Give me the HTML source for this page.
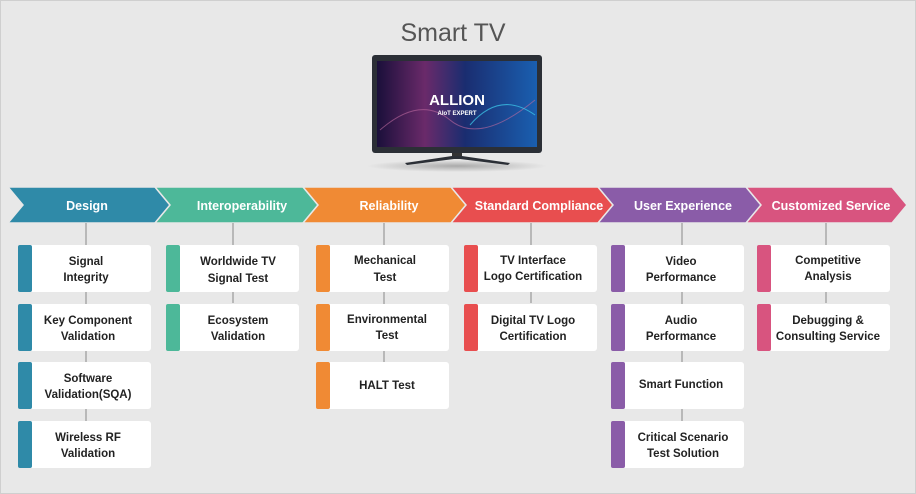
<!DOCTYPE html>
<html><head><meta charset="utf-8"><style>
body{margin:0;background:#e8e8e8;}
svg{display:block;font-family:"Liberation Sans",sans-serif;}
.h{font-weight:bold;font-size:12.5px;fill:#fff;text-anchor:middle;}
.b{font-weight:bold;font-size:11.5px;fill:#222;text-anchor:middle;}
</style></head><body>
<svg width="916" height="494" viewBox="0 0 916 494">
<rect width="916" height="494" fill="#e8e8e8"/>
<rect x="0.5" y="0.5" width="915" height="493" fill="none" stroke="#cfcfcf"/>
<text x="453" y="41" font-size="25" fill="#555" text-anchor="middle">Smart TV</text>
<defs>
<linearGradient id="scr" x1="0" y1="0" x2="1" y2="0">
<stop offset="0" stop-color="#1a0f3a"/><stop offset="0.3" stop-color="#6a2a6a"/><stop offset="0.55" stop-color="#1a2d70"/><stop offset="1" stop-color="#1a5fb0"/></linearGradient>
<radialGradient id="sh"><stop offset="0" stop-color="#aaa"/><stop offset="1" stop-color="#e8e8e8"/></radialGradient>
</defs>
<ellipse cx="457" cy="166" rx="90" ry="6" fill="url(#sh)"/>
<rect x="372" y="55" width="170" height="98" rx="3" fill="#2b2f36"/>
<rect x="377" y="61" width="160" height="86" fill="url(#scr)"/>
<path d="M380 130 Q420 95 450 120 T535 100" stroke="#c06aa0" fill="none" opacity=".6"/>
<path d="M470 125 Q500 90 535 115" stroke="#3fd0f0" fill="none" opacity=".7"/>
<text x="457" y="105" font-size="15" font-weight="bold" fill="#fff" text-anchor="middle">ALLION</text>
<text x="457" y="115" font-size="6" font-weight="bold" fill="#fff" text-anchor="middle">AIoT EXPERT</text>
<rect x="452" y="153" width="10" height="5" fill="#333"/>
<path d="M405 163 L452 156 L462 156 L510 163 L508 165 L460 159 L454 159 L407 165Z" fill="#2b2f36"/>
<g stroke="#e8e8e8" stroke-width="1.5">
<polygon points="8,187 155,187 170,205 155,223 8,223 23,205" fill="#2f8aa8"/>
<polygon points="155,187 303,187 318,205 303,223 155,223 170,205" fill="#4db899"/>
<polygon points="303,187 451,187 466,205 451,223 303,223 318,205" fill="#f08a34"/>
<polygon points="451,187 598,187 613,205 598,223 451,223 466,205" fill="#e84e4f"/>
<polygon points="598,187 746,187 761,205 746,223 598,223 613,205" fill="#8a5ca8"/>
<polygon points="746,187 892,187 907,205 892,223 746,223 761,205" fill="#d8547f"/>
</g>
<text class="h" x="87" y="210">Design</text>
<text class="h" x="242" y="210">Interoperability</text>
<text class="h" x="389" y="210">Reliability</text>
<text class="h" x="539" y="210">Standard Compliance</text>
<text class="h" x="683" y="210">User Experience</text>
<text class="h" x="831" y="210">Customized Service</text>
<g stroke="#888" stroke-width="1">
<line x1="86" y1="223" x2="86" y2="421"/>
<line x1="233" y1="223" x2="233" y2="303"/>
<line x1="384" y1="223" x2="384" y2="362"/>
<line x1="531" y1="223" x2="531" y2="303"/>
<line x1="682" y1="223" x2="682" y2="421"/>
<line x1="826" y1="223" x2="826" y2="303"/>
</g>
<g id="boxes">
<!-- col, x, color -->
</g>
<g>
<rect x="18" y="245" width="133" height="47" rx="3" fill="#fff"/><rect x="18" y="245" width="14" height="47" rx="2" fill="#2f8aa8"/>
<rect x="18" y="304" width="133" height="47" rx="3" fill="#fff"/><rect x="18" y="304" width="14" height="47" rx="2" fill="#2f8aa8"/>
<rect x="18" y="362" width="133" height="47" rx="3" fill="#fff"/><rect x="18" y="362" width="14" height="47" rx="2" fill="#2f8aa8"/>
<rect x="18" y="421" width="133" height="47" rx="3" fill="#fff"/><rect x="18" y="421" width="14" height="47" rx="2" fill="#2f8aa8"/>
<rect x="166" y="245" width="133" height="47" rx="3" fill="#fff"/><rect x="166" y="245" width="14" height="47" rx="2" fill="#4db899"/>
<rect x="166" y="304" width="133" height="47" rx="3" fill="#fff"/><rect x="166" y="304" width="14" height="47" rx="2" fill="#4db899"/>
<rect x="316" y="245" width="133" height="47" rx="3" fill="#fff"/><rect x="316" y="245" width="14" height="47" rx="2" fill="#f08a34"/>
<rect x="316" y="304" width="133" height="47" rx="3" fill="#fff"/><rect x="316" y="304" width="14" height="47" rx="2" fill="#f08a34"/>
<rect x="316" y="362" width="133" height="47" rx="3" fill="#fff"/><rect x="316" y="362" width="14" height="47" rx="2" fill="#f08a34"/>
<rect x="464" y="245" width="133" height="47" rx="3" fill="#fff"/><rect x="464" y="245" width="14" height="47" rx="2" fill="#e84e4f"/>
<rect x="464" y="304" width="133" height="47" rx="3" fill="#fff"/><rect x="464" y="304" width="14" height="47" rx="2" fill="#e84e4f"/>
<rect x="611" y="245" width="133" height="47" rx="3" fill="#fff"/><rect x="611" y="245" width="14" height="47" rx="2" fill="#8a5ca8"/>
<rect x="611" y="304" width="133" height="47" rx="3" fill="#fff"/><rect x="611" y="304" width="14" height="47" rx="2" fill="#8a5ca8"/>
<rect x="611" y="362" width="133" height="47" rx="3" fill="#fff"/><rect x="611" y="362" width="14" height="47" rx="2" fill="#8a5ca8"/>
<rect x="611" y="421" width="133" height="47" rx="3" fill="#fff"/><rect x="611" y="421" width="14" height="47" rx="2" fill="#8a5ca8"/>
<rect x="757" y="245" width="133" height="47" rx="3" fill="#fff"/><rect x="757" y="245" width="14" height="47" rx="2" fill="#d8547f"/>
<rect x="757" y="304" width="133" height="47" rx="3" fill="#fff"/><rect x="757" y="304" width="14" height="47" rx="2" fill="#d8547f"/>
</g>
<g class="b">
<text class="b" x="86" y="265">Signal</text><text class="b" x="86" y="281">Integrity</text>
<text class="b" x="88" y="324">Key Component</text><text class="b" x="88" y="340">Validation</text>
<text class="b" x="88" y="382">Software</text><text class="b" x="88" y="398">Validation(SQA)</text>
<text class="b" x="88" y="441">Wireless RF</text><text class="b" x="88" y="457">Validation</text>
<text class="b" x="238" y="265">Worldwide TV</text><text class="b" x="238" y="282">Signal Test</text>
<text class="b" x="238" y="324">Ecosystem</text><text class="b" x="238" y="340">Validation</text>
<text class="b" x="385" y="264">Mechanical</text><text class="b" x="385" y="281">Test</text>
<text class="b" x="387" y="323">Environmental</text><text class="b" x="387" y="339">Test</text>
<text class="b" x="387" y="389">HALT Test</text>
<text class="b" x="533" y="264">TV Interface</text><text class="b" x="533" y="280">Logo Certification</text>
<text class="b" x="533" y="324">Digital TV Logo</text><text class="b" x="533" y="340">Certification</text>
<text class="b" x="681" y="265">Video</text><text class="b" x="681" y="281">Performance</text>
<text class="b" x="681" y="324">Audio</text><text class="b" x="681" y="340">Performance</text>
<text class="b" x="681" y="388">Smart Function</text>
<text class="b" x="683" y="441">Critical Scenario</text><text class="b" x="683" y="457">Test Solution</text>
<text class="b" x="828" y="264">Competitive</text><text class="b" x="828" y="280">Analysis</text>
<text class="b" x="828" y="324">Debugging &amp;</text><text class="b" x="828" y="340">Consulting Service</text>
</g>
</svg>
</body></html>
